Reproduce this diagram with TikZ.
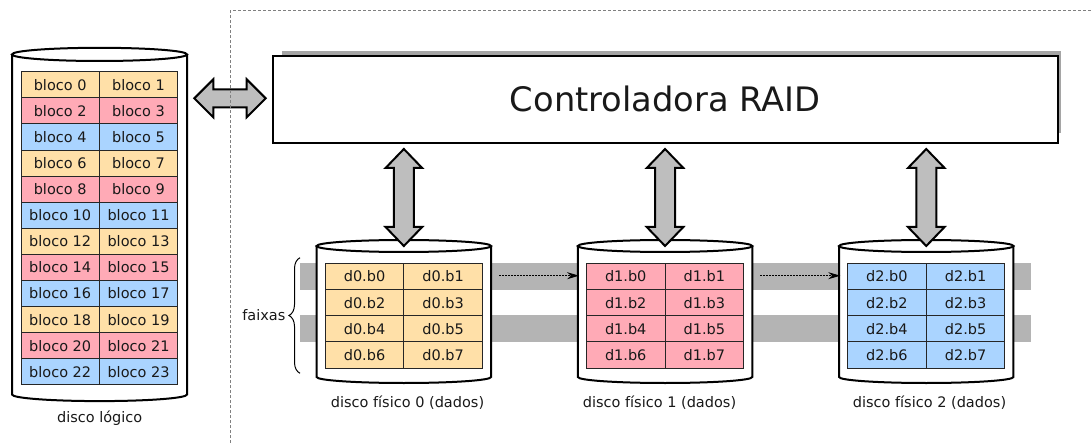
\documentclass[tikz,border=0pt]{standalone}
\usepackage{fontspec}
\setmainfont{DejaVu Sans}
\usetikzlibrary{decorations.pathreplacing,arrows.meta,calc}
\definecolor{cy}{RGB}{255,224,168}
\definecolor{cp}{RGB}{255,170,182}
\definecolor{cb}{RGB}{170,212,255}
\definecolor{stripe}{RGB}{180,180,180}
\definecolor{afill}{RGB}{190,190,190}
\definecolor{shadowc}{RGB}{165,165,165}
\newcommand\fsmall{\fontsize{14.5}{17}\selectfont}
\newcommand\fbig{\fontsize{33.7}{40}\selectfont}
% cylinder: cx, half width, y top, y bottom, ry
\newcommand\mycyl[5]{%
  \fill[white] (#1-#2,#3) -- (#1-#2,#4) arc[start angle=180,end angle=360,x radius=#2pt,y radius=#5pt]
     -- (#1+#2,#3) arc[start angle=0,end angle=180,x radius=#2pt,y radius=#5pt] -- cycle;
  \draw[diskline] (#1-#2,#3) -- (#1-#2,#4) arc[start angle=180,end angle=360,x radius=#2pt,y radius=#5pt] -- (#1+#2,#3);
  \draw[diskline] (#1,#3) ellipse[x radius=#2pt,y radius=#5pt];
}
% vertical double arrow: x, y1, y2
\newcommand\vdarrow[3]{%
  \draw[bigarrow] (#1,#2) -- ++(18.3,19) -- ++(-8.3,0) -- (#1+10,#3-19) -- ++(8.3,0) -- (#1,#3)
    -- ++(-18.3,-19) -- ++(8.3,0) -- (#1-10,#2+19) -- ++(-8.3,0) -- cycle;
}
\begin{document}
\begin{tikzpicture}[x=1pt,y=-1pt,
  diskline/.style={draw=black,line width=2pt},
  cell/.style={draw=black!85,line width=0.9pt,inner sep=0pt,font=\fsmall,text=black!90},
  bigarrow/.style={draw=black,line width=2pt,fill=afill,line join=miter},
  lbl/.style={font=\fsmall,text=black!90,inner sep=0pt},
  frame/.style={draw=black!50,line width=1pt,dash pattern=on 3pt off 2pt},
  dotarrow/.style={draw=black,line width=1pt,dash pattern=on 1.5pt off 1.5pt,-{Stealth[length=12pt,width=7pt]}}]
\useasboundingbox (0,0) rectangle (1091,443);

% stripes
\fill[stripe] (300,262.7) rectangle (1030.7,290);
\fill[stripe] (300,315) rectangle (1030.7,341.7);

% logical disk
\mycyl{99.5}{87.5}{54.4}{394.5}{6.6}
\foreach \r in {0,...,11} {
  \pgfmathtruncatemacro\k{mod(\r,3)}
  \ifcase\k \def\cc{cy}\or \def\cc{cp}\or \def\cc{cb}\fi
  \foreach \c in {0,1} {
    \pgfmathtruncatemacro\n{2*\r+\c}
    \node[cell,fill=\cc,minimum width=78.35pt,minimum height=26.1pt] (L-\r-\c)
      at ({21+78.35*\c+39.175},{71.7+26.1*\r+13.05}) {bloco \n};
  }
}
\node[lbl] (Llabel) at (99.7,418) {disco lógico};

% physical disks
\foreach \d/\cc/\lx in {0/cy/407.5,1/cp/659.5,2/cb/929.5} {
  \pgfmathsetmacro\cx{403.85+261.2*\d}
  \mycyl{\cx}{87.2}{246}{377}{6}
  \foreach \r in {0,...,3} {
    \foreach \c in {0,1} {
      \pgfmathtruncatemacro\n{2*\r+\c}
      \node[cell,fill=\cc,minimum width=78.65pt,minimum height=26.2pt] (D\d-\r-\c)
        at ({\cx-78.65+78.65*\c+39.325},{263.3+26.2*\r+13.1}) {d\d.b\n};
    }
  }
  \node[lbl] (Dlabel\d) at (\lx,402.7) {disco físico \d\ (dados)};
  \coordinate (Dtop\d) at (\cx,246);
  \coordinate (Cbot\d) at (\cx,149);
  \coordinate (Dr\d) at ({\cx+95.4},275.7);
  \coordinate (Dl\d) at ({\cx-86},275.7);
}

% dotted arrows between disks
\draw[dotarrow] (Dr0) -- (Dl1);
\draw[dotarrow] (Dr1) -- (Dl2);

% brace
\draw[line width=1pt,decorate,decoration={brace,amplitude=11pt}] (300,373.3) -- (300,257.7);
\node[lbl,anchor=east] (faixas) at (285.5,315) {faixas};

% controller
\fill[shadowc] (282,51) rectangle (1061,133);
\node[draw=black,line width=2pt,fill=white,minimum width=785pt,minimum height=86.7pt,
  font=\fbig,text=black!90] (ctrl) at (665.2,99.35) {Controladora RAID};

% vertical arrows
\foreach \d in {0,1,2} {
  \path (Cbot\d) coordinate (a) (Dtop\d) coordinate (b);
}
\vdarrow{403.85}{149}{246}
\vdarrow{665.05}{149}{246}
\vdarrow{926.25}{149}{246}

% horizontal arrow (logical disk <-> controller)
\draw[bigarrow] (194.3,98.3) -- ++(19,-19) -- ++(0,10) -- (246.7,89.3) -- ++(0,-10) -- (265.7,98.3)
  -- (246.7,117.3) -- ++(0,-10) -- (213.3,107.3) -- ++(0,10) -- cycle;

% frame lines
\draw[frame] (230,443) -- (230,11) -- (1091,11);
\end{tikzpicture}
\end{document}
